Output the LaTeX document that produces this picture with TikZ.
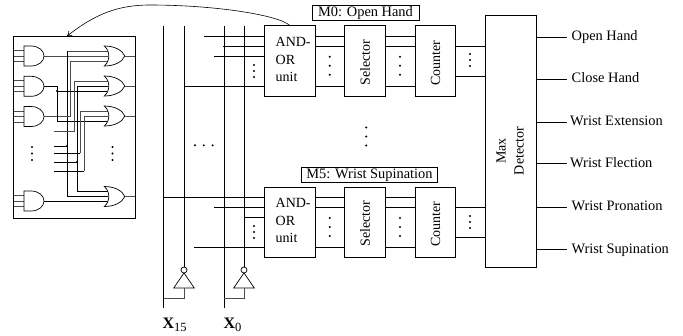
\documentclass[tikz,border=0pt]{standalone}
\usepackage{fontspec}
\setmainfont{Liberation Serif}
\usetikzlibrary{calc,arrows.meta}
\tikzset{
  blockbox/.style={draw,line width=.8pt,fill=white,inner sep=0pt,font=\fontsize{14}{16}\selectfont},
  lab/.style={font=\fontsize{14.4}{14.4}\selectfont,inner sep=0pt,anchor=base west},
  blab/.style={font=\fontsize{14}{14}\selectfont,inner sep=0pt,anchor=base west},
  title/.style={draw,line width=.7pt,inner sep=0pt,minimum height=15pt,text height=10pt,text depth=3pt,font=\fontsize{14.4}{14.4}\selectfont},
  wire/.style={line width=.7pt},
  thin wire/.style={line width=.7pt,black!70},
  bus/.style={line width=1pt},
  vd/.style={font=\fontsize{14}{14}\selectfont,inner sep=0pt},
  gatestyle/.style={line width=.7pt,fill=white},
  jn/.style={circle,fill,inner sep=0pt,minimum size=2.2pt}
}
\newcommand{\vdotsm}[3]{\fill (#1,#2-#3) circle (1.1pt) (#1,#2) circle (1.1pt) (#1,#2+#3) circle (1.1pt);}
\newcommand{\andg}[2]{\draw[gatestyle] (#1,#2-10) -- (#1+7,#2-10) .. controls (#1+15,#2-10) and (#1+20,#2-5) .. (#1+20,#2) .. controls (#1+20,#2+5) and (#1+15,#2+10) .. (#1+7,#2+10) -- (#1,#2+10) -- cycle;}
\newcommand{\org}[2]{\draw[gatestyle] (#1,#2-10) .. controls (#1+10,#2-10) and (#1+18,#2-6) .. (#1+20.5,#2) .. controls (#1+18,#2+6) and (#1+10,#2+10) .. (#1,#2+10) .. controls (#1+6,#2+5) and (#1+6,#2-5) .. (#1,#2-10) -- cycle;}
\begin{document}
\begin{tikzpicture}[x=1pt,y=-1pt]
\useasboundingbox (0,0) rectangle (683,335);
% gate box
\node[draw,line width=.9pt,minimum width=121.5pt,minimum height=181.5pt,inner sep=0pt] (gb) at (74.25,127.5) {};
% internal wires
\foreach \y in {56,86.3,116.5,201}{
  \draw[thin wire] (13.5,\y-5.5) -- (24,\y-5.5) (13.5,\y) -- (24,\y) (13.5,\y+5.5) -- (24,\y+5.5);
}
\draw[thin wire] (44,56) -- (108,56);
\draw[thin wire] (67,51) -- (108,51);
\draw[wire] (67,51) -- (67,196.5) -- (108,196.5);
\draw[thin wire] (70,61) -- (108,61);
\draw[thin wire] (70,61) -- (70,116.5) -- (44,116.5);
\draw[wire] (44,86.3) -- (57,86.3) -- (57,121) -- (107,121);
\draw[wire] (57,91) -- (108,91);
\draw[thin wire] (74,81) -- (108,81) (74,81) -- (74,131) -- (54,131);
\draw[wire] (77,86) -- (108,86) (77,86) -- (77,191) -- (108,191);
\draw[thin wire] (80,153) -- (80,111) -- (108,111);
\draw[thin wire] (84,171) -- (84,116) -- (108,116);
\draw[wire] (54,146) -- (67,146);
\draw[wire] (54,153) -- (80,153);
\draw[wire] (54,162) -- (77,162);
\draw[wire] (54,171) -- (84,171);
\draw[wire] (44,201) -- (108,201);
\node[jn] (j1) at (57,91) {};
\node[jn] (j2) at (67,146) {};
\node[jn] (j3) at (77,162) {};
\foreach \y in {56,86.3,116.5,201}{\andg{24}{\y}}
\foreach \y in {56,86,116,196.5}{\org{104.3}{\y}\draw[thin wire] (124.8,\y) -- (134.5,\y);}
\vdotsm{32}{153.5}{6.5}
\vdotsm{112.5}{153.5}{6.5}
% buses
\foreach \x in {163.5,224}{\draw[bus] (\x,26) -- (\x,308);}
\foreach \x in {184,244}{\draw[bus] (\x,26) -- (\x,268);}
% blocks
\node[blockbox,minimum width=50.5pt,minimum height=70.5pt] (au0) at (289.7,61) {};
\node[blockbox,minimum width=40.5pt,minimum height=70.5pt] (se0) at (365,61) {};
\node[blockbox,minimum width=40.5pt,minimum height=70.5pt] (co0) at (435.5,61) {};
\node[blockbox,minimum width=50.5pt,minimum height=70pt] (au5) at (289.7,222.3) {};
\node[blockbox,minimum width=40.5pt,minimum height=70pt] (se5) at (365,222.3) {};
\node[blockbox,minimum width=40.5pt,minimum height=70pt] (co5) at (435.5,222.3) {};
\node[blockbox,minimum width=50.6pt,minimum height=251.6pt] (md) at (511,141.5) {};
\node[font=\fontsize{14}{18}\selectfont,rotate=90,align=center,inner sep=0pt] (mdl) at (510,151) {Max\\Detector};
% AND-OR labels
\foreach \n in {au0,au5}{
 \node[blab] at ($(\n.west)+(11.4,-15)$) {AND-};
 \node[blab] at ($(\n.west)+(11.4,3.5)$) {OR};
 \node[blab] at ($(\n.west)+(11.4,20.3)$) {unit};
}
\foreach \n in {se0,se5}{\node[vd,rotate=90] at ($(\n)+(0,1.5)$) {Selector};}
\foreach \n in {co0,co5}{\node[vd,rotate=90] at ($(\n)+(0,2)$) {Counter};}
% connections
\foreach \y in {36,46,86}{
 \draw[wire] (au0.east|-0,\y) -- (se0.west|-0,\y);
 \draw[wire] (se0.east|-0,\y) -- (co0.west|-0,\y);
}
\foreach \y in {197,207,247.3}{
 \draw[wire] (au5.east|-0,\y) -- (se5.west|-0,\y);
 \draw[wire] (se5.east|-0,\y) -- (co5.west|-0,\y);
}
\draw[wire] (co0.east|-0,46.3) -- (md.west|-0,46.3) (co0.east|-0,76.3) -- (md.west|-0,76.3);
\draw[wire] (co5.east|-0,207.3) -- (md.west|-0,207.3) (co5.east|-0,237.7) -- (md.west|-0,237.7);
% input wires M0
\draw[wire] (204,36) -- (au0.west|-0,36);
\draw[wire] (223,46) -- (au0.west|-0,46);
\draw[wire] (214,56) -- (au0.west|-0,56);
\draw[wire] (184,86) -- (au0.west|-0,86);
% input wires M5
\draw[wire] (163.5,197) -- (au5.west|-0,197);
\draw[wire] (214,207) -- (au5.west|-0,207);
\draw[wire] (243.5,217) -- (au5.west|-0,217);
\draw[wire] (194,247.3) -- (au5.west|-0,247.3);
% dots
\vdotsm{254}{71}{6}
\vdotsm{254}{232}{6}
\vdotsm{329.7}{65.7}{9}
\vdotsm{329.7}{227}{9}
\vdotsm{400}{65.7}{9}
\vdotsm{400}{227}{9}
\vdotsm{470}{60}{6}
\vdotsm{470}{222}{6}
\vdotsm{366.3}{136.5}{9}
\fill (195,145.3) circle (1.1pt) (203.8,145.3) circle (1.1pt) (212.6,145.3) circle (1.1pt);
% titles
\node[title,minimum width=107pt] (m0) at (365.5,12.5) {M0: Open Hand};
\node[title,minimum width=135.5pt] (m5) at (369.5,174.5) {M5: Wrist Supination};
% inverters
\coordinate (inv15) at (184,267);
\coordinate (inv0) at (244,267);
\foreach \c/\b in {inv15/163.5,inv0/224}{
 \draw[wire,fill=white] ($(\c)+(0,6)$) -- ($(\c)+(10.3,21)$) -- ($(\c)+(-10.3,21)$) -- cycle;
 \draw[wire,fill=white] ($(\c)+(0,3)$) circle (3);
 \draw[thin wire] ($(\c)+(0,21)$) -- ($(\c)+(0,31)$) -- (\b,298);
}
% arrow curve
\coordinate (gbtop) at ($(gb.north)+(-7.5,0)$);
\draw[line width=.6pt,-{To[length=5pt,width=6pt]}] (au0.north) .. controls (278,15) and (215,5) .. (150,5) .. controls (118,5) and (95,14) .. (gbtop);
% outputs
\foreach \y/\t/\tx in {37.3/Open Hand/571.5,79.3/Close Hand/571.5,122/Wrist Extension/570,163.7/Wrist Flection/570,207.3/Wrist Pronation/571.3,249.7/Wrist Supination/571.3}{
 \node[lab] at (\tx,\y+3.5) {\t};
 \draw[wire] (md.east|-0,\y) -- (566.7,\y);
}
% X labels
\node[inner sep=0pt,anchor=base west,font=\fontsize{16}{16}\selectfont] (x15) at (162.3,328) {\textbf{X}\raisebox{-3pt}{\fontsize{12.5}{12.5}\selectfont 15}};
\node[inner sep=0pt,anchor=base west,font=\fontsize{16}{16}\selectfont] (x0) at (223.3,328) {\textbf{X}\raisebox{-3pt}{\fontsize{12.5}{12.5}\selectfont 0}};
\end{tikzpicture}
\end{document}
